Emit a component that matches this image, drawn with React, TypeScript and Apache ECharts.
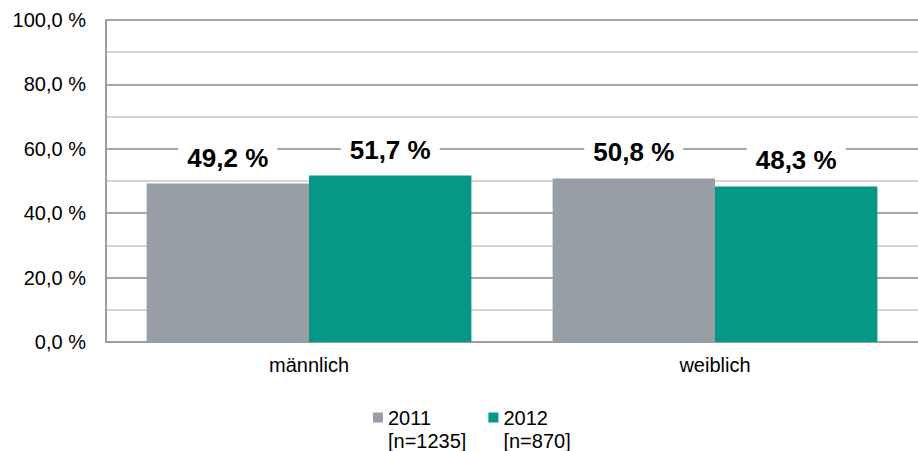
import React, { useEffect, useRef } from "react";
import * as echarts from "echarts";

const categories = ["männlich", "weiblich"];
const series2011 = [49.2, 50.8];
const series2012 = [51.7, 48.3];
const legendNames = ["2011\n[n=1235]", "2012\n[n=870]"];

const fmt = (v: number) => v.toFixed(1).replace(".", ",") + " %";

export default function App() {
  const ref = useRef<HTMLDivElement>(null);
  useEffect(() => {
    if (!ref.current) return;
    const chart = echarts.init(ref.current, null, { renderer: "svg" });
    const font = "Liberation Sans, Arial, sans-serif";
    const label = {
      show: true,
      position: "top" as const,
      distance: 11,
      formatter: (p: any) => fmt(p.value),
      fontFamily: font,
      fontSize: 26,
      fontWeight: "bold" as const,
      color: "#000",
      backgroundColor: "#fff",
      padding: [4, 9, 2, 9],
    };
    chart.setOption({
      animation: false,
      textStyle: { fontFamily: font },
      grid: { left: 106, right: -8, top: 20, bottom: 109, containLabel: false },
      legend: {
        left: 373,
        top: 406,
        padding: 0,
        itemWidth: 10,
        itemHeight: 33,
        itemGap: 22,
        icon: "path://M0,0H10V10H0Z M0,33L0,33",
        textStyle: { fontFamily: font, fontSize: 20, color: "#000", lineHeight: 23 },
        data: legendNames,
      },
      xAxis: {
        type: "category",
        data: categories,
        axisTick: { show: false },
        axisLine: { lineStyle: { color: "#9e9e9e", width: 2 } },
        axisLabel: { color: "#000", fontSize: 20, fontFamily: font, margin: 13 },
      },
      yAxis: {
        type: "value",
        min: 0,
        max: 100,
        interval: 20,
        axisLine: { show: true, lineStyle: { color: "#9e9e9e", width: 2 } },
        axisTick: { show: false },
        axisLabel: { color: "#000", fontSize: 20, fontFamily: font, margin: 20, formatter: (v: number) => fmt(v) },
        splitLine: { lineStyle: { color: "#a6a6a6", width: 2 } },
        minorTick: { show: false, splitNumber: 2 },
        minorSplitLine: { show: true, lineStyle: { color: "#d4d4d4", width: 2 } },
      },
      series: [
        {
          name: legendNames[0],
          type: "bar",
          data: series2011,
          barGap: "0%",
          barCategoryGap: "20%",
          itemStyle: { color: "#979ea5" },
          label,
        },
        {
          name: legendNames[1],
          type: "bar",
          data: series2012,
          itemStyle: { color: "#059886" },
          label,
        },
      ],
    });
    return () => chart.dispose();
  }, []);
  return <div ref={ref} style={{ width: 918, height: 451, position: "absolute", left: 0, top: 0 }} />;
}
